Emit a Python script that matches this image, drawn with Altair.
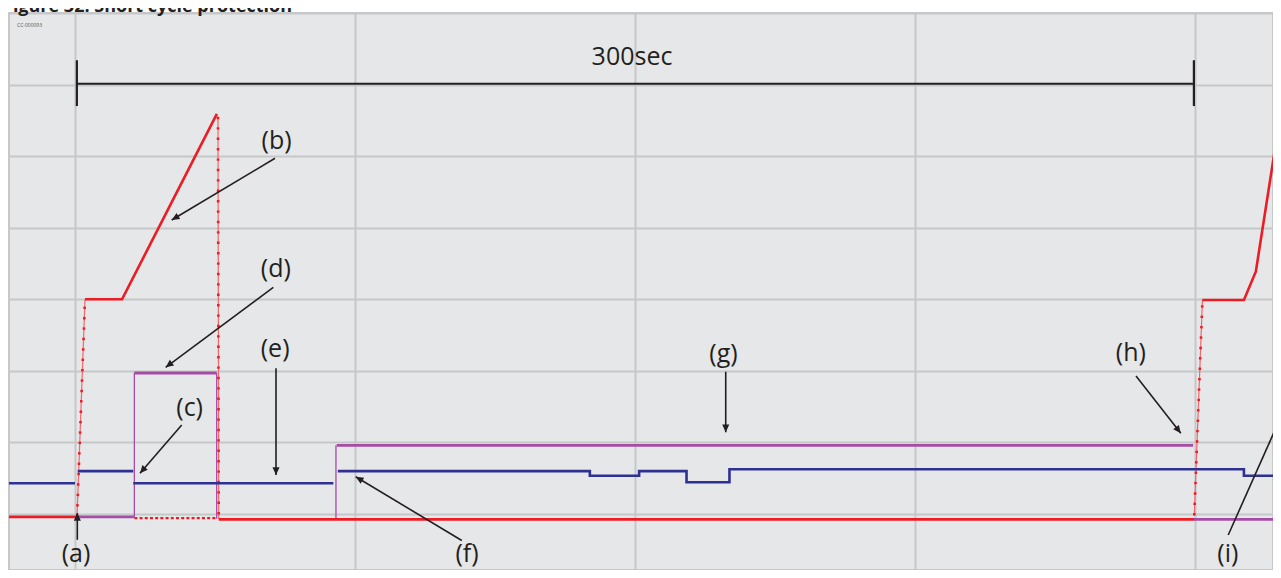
import math
import altair as alt
import pandas as pd

# ---------------- data (time in seconds, level in grid units) ----------------
X_DOMAIN = [-17.68, 320.89]
Y_DOMAIN = [-0.782, 7.0]
X_GRID = [0, 75, 150, 225, 300]
Y_GRID = [0, 1, 2, 3, 4, 5, 6, 7]

RED_SOLID = [
    [(-17.7, -0.04), (0.54, -0.04)],
    [(2.68, 3.0), (12.6, 3.0), (38.0, 5.59)],
    [(38.5, -0.075), (299.8, -0.075)],
    [(302.0, 2.99), (313.1, 2.99), (316.3, 3.39), (321.9, 5.26)],
]
RED_DOTTED = [
    [(0.54, -0.04), (2.68, 3.0)],
    [(38.3, 5.55), (38.5, -0.07)],
    [(299.8, -0.02), (302.0, 3.0)],
    [(322.2, 5.26), (327.1, -0.07)],
]
RED_DASHED = [
    [(15.9, -0.056), (38.0, -0.056)],
]
PURPLE_THICK = [
    [(0.54, -0.04), (15.9, -0.04)],
    [(15.9, 1.97), (37.95, 1.97)],
    [(70.1, 0.96), (299.5, 0.96)],
    [(299.7, -0.075), (323.5, -0.075)],
]
PURPLE_THIN = [
    [(15.9, -0.04), (15.9, 1.97)],
    [(37.95, 1.97), (37.95, -0.066)],
    [(69.9, -0.066), (69.9, 0.96)],
]
BLUE_STEPS = [
    [(-17.7, 0.43), (0.0, 0.43)],
    [(0.72, 0.60), (15.6, 0.60)],
    [(15.6, 0.43), (69.2, 0.43)],
    [(70.4, 0.60), (137.9, 0.535), (151.1, 0.60), (163.8, 0.443),
     (175.3, 0.625), (313.1, 0.535), (323.5, 0.535)],
]

LABELS = ["(a)", "(b)", "(c)", "(d)", "(e)", "(f)", "(g)", "(h)", "(i)"]
LABEL_T = [0.27, 54.0, 30.7, 53.8, 53.6, 105.0, 173.7, 282.8, 308.8]
LABEL_V = [-0.56, 5.208, 1.488, 3.419, 2.303, -0.56, 2.232, 2.245, -0.56]

ARROW_T1 = [0.62, 53.57, 28.58, 53.12, 53.84, 103.6, 174.3, 284.2, 308.9]
ARROW_V1 = [-0.36, 4.97, 1.244, 3.168, 2.036, -0.37, 1.988, 1.928, -0.293]
ARROW_T2 = [0.62, 25.9, 17.41, 24.29, 53.84, 75.19, 174.3, 296.2, 323.2]
ARROW_V2 = [0.014, 4.108, 0.569, 2.050, 0.545, 0.521, 1.142, 1.128, 1.383]

SPAN_TEXT = "300sec"
SPAN_T = [0.5, 299.7]
SPAN_LEVEL = 6.01
SPAN_TICK = [5.70, 6.34]
SPAN_TEXT_POS = (149.2, 6.269)

TITLE = "Figure 32: Short cycle protection"
TAG = "CC-000093"

# ---------------- styling ----------------
W, H = 1264, 557
RED = "#ed1c24"
RED_LIGHT = "#f2676c"
BLUE = "#2e3192"
PURPLE = "#a54ca6"
INK = "#231f20"
BG = "#e6e7e8"
GRID = "#c6c7c9"
FONT = "Open Sans"

PX_T = W / (X_DOMAIN[1] - X_DOMAIN[0])
PX_V = H / (Y_DOMAIN[1] - Y_DOMAIN[0])

xs = alt.Scale(domain=X_DOMAIN, nice=False, zero=False)
ys = alt.Scale(domain=Y_DOMAIN, nice=False, zero=False)
XA = alt.Axis(values=X_GRID, grid=True, labels=False, ticks=False,
              domain=False, title=None, gridColor=GRID, gridWidth=2)
YA = alt.Axis(values=Y_GRID, grid=True, labels=False, ticks=False,
              domain=False, title=None, gridColor=GRID, gridWidth=2)


def X(field):
    return alt.X(field, scale=xs, axis=XA)


def Y(field):
    return alt.Y(field, scale=ys, axis=YA)


def pieces_df(pieces):
    rows = []
    for i, piece in enumerate(pieces):
        for j, (t, v) in enumerate(piece):
            rows.append({"t": t, "v": v, "piece": i, "k": j})
    return pd.DataFrame(rows)


def line_layer(pieces, **mark):
    return alt.Chart(pieces_df(pieces)).mark_line(clip=True, **mark).encode(
        x=X("t:Q"), y=Y("v:Q"), detail="piece:N", order="k:O",
    )


purple_thin = line_layer(PURPLE_THIN, color=PURPLE, strokeWidth=1.3)
red_dashed = line_layer(RED_DASHED, color=RED, strokeWidth=2.2, strokeDash=[3, 2.2])
red_dot_line = line_layer(RED_DOTTED, color=RED_LIGHT, strokeWidth=1.2)
red_dot_marks = line_layer(RED_DOTTED, color=RED, strokeWidth=2.6, strokeDash=[2.4, 8])
red_solid = line_layer(RED_SOLID, color=RED, strokeWidth=2.6, strokeJoin="miter")
purple_thick = line_layer(PURPLE_THICK, color=PURPLE, strokeWidth=2.8)
blue = line_layer(BLUE_STEPS, color=BLUE, strokeWidth=2.6, interpolate="step-after")

# arrows
arrows = pd.DataFrame({"t1": ARROW_T1, "v1": ARROW_V1, "t2": ARROW_T2, "v2": ARROW_V2})
arrows["ang"] = [
    math.degrees(math.atan2((b - a) * PX_T, (d - c) * PX_V)) % 360
    for a, b, c, d in zip(ARROW_T1, ARROW_T2, ARROW_V1, ARROW_V2)
]
arrow_lines = alt.Chart(arrows).mark_rule(color=INK, strokeWidth=1.6, clip=True).encode(
    x=X("t1:Q"), x2="t2:Q", y=Y("v1:Q"), y2="v2:Q",
)
arrow_heads = alt.Chart(arrows).mark_point(
    shape="M0,0 L0.5,1.1 L-0.5,1.1 Z", filled=True, size=200, color=INK, opacity=1,
    strokeWidth=0, clip=True,
).encode(
    x=X("t2:Q"), y=Y("v2:Q"), angle=alt.Angle("ang:Q", scale=None),
)

labels = alt.Chart(pd.DataFrame({"s": LABELS, "t": LABEL_T, "v": LABEL_V})).mark_text(
    font=FONT, fontSize=25, color=INK, align="center", baseline="middle",
).encode(x=X("t:Q"), y=Y("v:Q"), text="s:N")

# 300 s span marker
span_h = alt.Chart(pd.DataFrame({"t1": [SPAN_T[0]], "t2": [SPAN_T[1]], "v": [SPAN_LEVEL]})).mark_rule(
    color=INK, strokeWidth=2
).encode(x=X("t1:Q"), x2="t2:Q", y=Y("v:Q"))
span_ticks = alt.Chart(pd.DataFrame({"t": SPAN_T, "v1": [SPAN_TICK[0]] * 2, "v2": [SPAN_TICK[1]] * 2})).mark_rule(
    color=INK, strokeWidth=2.2
).encode(x=X("t:Q"), y=Y("v1:Q"), y2="v2:Q")
span_text = alt.Chart(pd.DataFrame({"s": [SPAN_TEXT], "t": [SPAN_TEXT_POS[0]], "v": [SPAN_TEXT_POS[1]]})).mark_text(
    font=FONT, fontSize=25, color=INK, align="center", baseline="alphabetic",
).encode(x=X("t:Q"), y=Y("v:Q"), text="s:N")

title = alt.Chart(pd.DataFrame({"s": [TITLE]})).mark_text(
    font=FONT, fontSize=18, fontWeight="bold", color=INK, align="left", baseline="alphabetic",
).encode(text="s:N", x=alt.value(-6), y=alt.value(-1))

tag = alt.Chart(pd.DataFrame({"s": [TAG]})).mark_text(
    font=FONT, fontSize=5, color="#555555", align="left", baseline="alphabetic",
).encode(text="s:N", x=alt.value(8), y=alt.value(14))

chart = alt.layer(
    purple_thin, red_dashed, red_dot_line, red_dot_marks, red_solid, purple_thick, blue,
    arrow_lines, arrow_heads, labels, span_h, span_ticks, span_text, title, tag,
).properties(
    width=W, height=H,
    autosize=alt.AutoSizeParams(type="none"),
    padding={"left": 1, "top": 5, "right": 0, "bottom": 0},
).configure_view(
    fill=BG, stroke="#c8c8c8", strokeWidth=2,
)

chart.save("out.html", embed_options={"renderer": "svg", "actions": False})
